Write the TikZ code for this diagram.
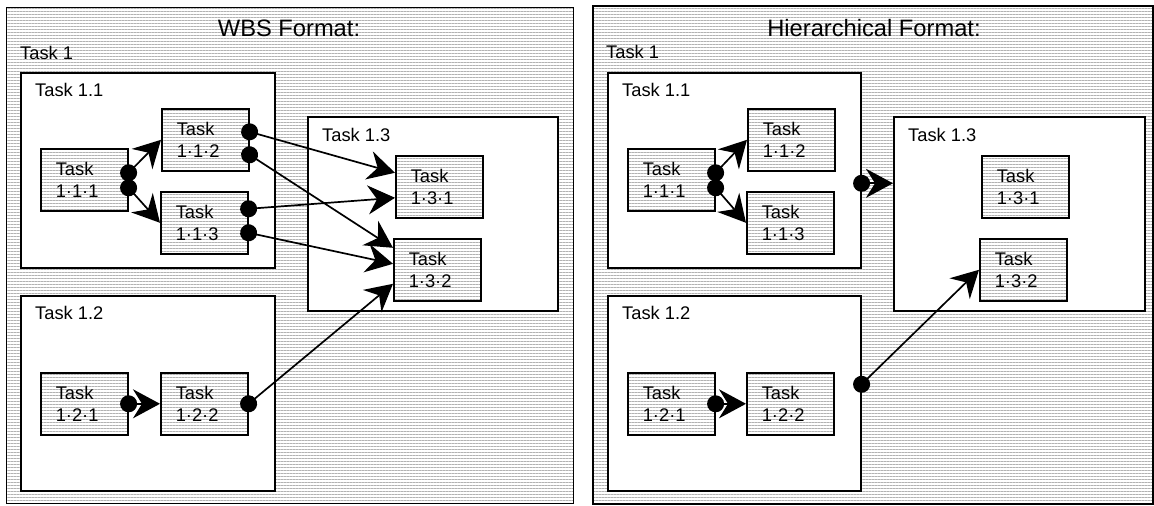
\documentclass[tikz,border=0pt]{standalone}
\usepackage{fontspec}
\setmainfont{Liberation Sans}
\usetikzlibrary{arrows.meta,patterns.meta}

\tikzset{
    hatched/.style={pattern={Lines[angle=0,distance=3pt,line width=0.9pt]}, pattern color=black!30},
    panel/.style={draw, line width=1.6pt, hatched, anchor=north west, inner sep=0pt},
    group/.style={draw, line width=1.6pt, fill=white, anchor=north west, inner sep=0pt},
    task/.style={draw, line width=1.6pt, hatched, anchor=north west,
        minimum width=87pt, minimum height=62pt, text width=57pt,
        inner xsep=15pt, inner ysep=0pt, align=left,
        font=\fontsize{18.3}{21.5}\selectfont},
    lbl/.style={anchor=base west, inner sep=0pt, font=\fontsize{18.3}{21.5}\selectfont},
    heading/.style={anchor=base, inner sep=0pt, font=\fontsize{23.7}{28}\selectfont},
    link/.style={line width=1.7pt,
        {Circle[length=17pt]}-{Stealth[length=27pt,width=29pt,inset=9pt]},
        shorten <=-8.5pt}
}

\begin{document}
\begin{tikzpicture}[x=1pt, y=-1pt]
\useasboundingbox (0,0) rectangle (1154,506);

%% Help lines
% \begin{scope}[help lines, opacity=0.2]
%     \draw[step=50] (0,0) grid (1154,506);
% \end{scope}

%% WBS format
\node[panel, minimum width=567pt, minimum height=496pt] (l1) at (6,7) {};
\node[heading] (lhead) at (289,36) {WBS Format:};
\node[lbl] (l1t) at (20,59) {Task 1};

\node[group, minimum width=254pt, minimum height=195pt] (l11) at (20,72) {};
\node[lbl] (l11t) at (35,96) {Task 1.1};
\node[task] (l111) at (40,148) {Task\\1·1·1};
\node[task] (l112) at (161,108) {Task\\1·1·2};
\node[task] (l113) at (160,191) {Task\\1·1·3};

\node[group, minimum width=254pt, minimum height=195pt] (l12) at (20,295) {};
\node[lbl] (l12t) at (35,319) {Task 1.2};
\node[task] (l121) at (40,372) {Task\\1·2·1};
\node[task] (l122) at (160,372) {Task\\1·2·2};

\node[group, minimum width=250pt, minimum height=194pt] (l13) at (307,116) {};
\node[lbl] (l13t) at (322,141) {Task 1.3};
\node[task] (l131) at (395,155) {Task\\1·3·1};
\node[task] (l132) at (393,238) {Task\\1·3·2};

\draw[link] ([yshift=7pt]l111.east) -- (l112.west);
\draw[link] ([yshift=-8pt]l111.east) -- (l113.west);
\draw[link] ([yshift=8pt]l112.east) -- ([yshift=14pt]l131.west);
\draw[link] ([yshift=-15pt]l112.east) -- ([yshift=22pt]l132.west);
\draw[link] ([yshift=14pt]l113.east) -- ([yshift=-11pt]l131.west);
\draw[link] ([yshift=-10pt]l113.east) -- ([yshift=6pt]l132.west);
\draw[link] (l121.east) -- (l122.west);
\draw[link] (l122.east) -- ([yshift=-14pt]l132.west);

%% Hierarchical format
\node[panel, minimum width=560pt, minimum height=498pt] (r1) at (592,5) {};
\node[heading] (rhead) at (874,36) {Hierarchical Format:};
\node[lbl] (r1t) at (606,58) {Task 1};

\node[group, minimum width=253pt, minimum height=195pt] (r11) at (607,72) {};
\node[lbl] (r11t) at (622,96) {Task 1.1};
\node[task] (r111) at (627,148) {Task\\1·1·1};
\node[task] (r112) at (747,108) {Task\\1·1·2};
\node[task] (r113) at (746,191) {Task\\1·1·3};

\node[group, minimum width=253pt, minimum height=195pt] (r12) at (607,295) {};
\node[lbl] (r12t) at (622,319) {Task 1.2};
\node[task] (r121) at (627,372) {Task\\1·2·1};
\node[task] (r122) at (746,372) {Task\\1·2·2};

\node[group, minimum width=251pt, minimum height=194pt] (r13) at (893,116) {};
\node[lbl] (r13t) at (908,141) {Task 1.3};
\node[task] (r131) at (981,155) {Task\\1·3·1};
\node[task] (r132) at (979,238) {Task\\1·3·2};

\coordinate (r11out) at ([yshift=-13pt]r11.east);
\draw[link] ([yshift=7pt]r111.east) -- (r112.west);
\draw[link] ([yshift=-8pt]r111.east) -- (r113.west);
\draw[link] (r121.east) -- (r122.west);
\draw[link] (r11out) -- (r11out -| r13.west);
\draw[link] ([yshift=9pt]r12.east) -- (r132.west);
\end{tikzpicture}
\end{document}
